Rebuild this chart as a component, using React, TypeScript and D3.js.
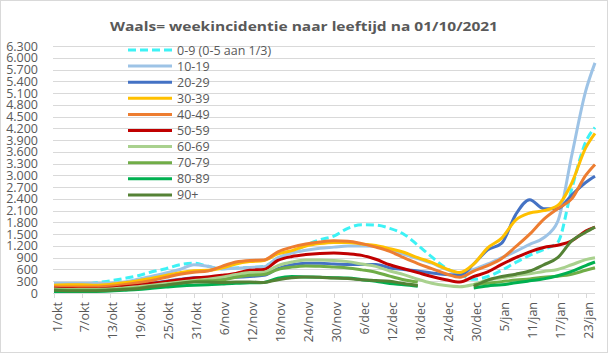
import React from "react";
import * as d3 from "d3";

const dates = [
  "2021-10-01","2021-10-04","2021-10-07","2021-10-10","2021-10-13","2021-10-16","2021-10-19","2021-10-22","2021-10-25","2021-10-28",
  "2021-10-31","2021-11-03","2021-11-06","2021-11-09","2021-11-12","2021-11-15","2021-11-18","2021-11-21","2021-11-24","2021-11-27",
  "2021-11-30","2021-12-03","2021-12-06","2021-12-09","2021-12-12","2021-12-15","2021-12-18","2021-12-21","2021-12-24","2021-12-27",
  "2021-12-30","2022-01-02","2022-01-05","2022-01-08","2022-01-11","2022-01-14","2022-01-17","2022-01-20","2022-01-23","2022-01-25",
];

const seriesNames = ["0-9 (0-5 aan 1/3)", "10-19", "20-29", "30-39", "40-49", "50-59", "60-69", "70-79", "80-89", "90+"];
const seriesColors = ["#3DF2F5", "#9DC3E6", "#4472C4", "#FFC000", "#ED7D31", "#C00000", "#A9D18E", "#70AD47", "#00B050", "#548235"];

const age0_9 = [190,200,210,260,310,370,440,540,620,720,760,680,620,640,650,680,880,1040,1220,1360,1450,1650,1740,1730,1650,1500,1220,920,640,480,350,420,580,780,960,1110,1290,2650,3850,4220];
const age10_19 = [250,250,250,250,250,280,350,430,510,600,720,680,610,630,650,670,900,1020,1090,1140,1170,1200,1200,1190,1080,990,880,760,610,500,600,740,900,1060,1240,1410,1820,3500,5150,5870];
const age20_29 = [150,140,140,140,150,170,200,250,300,350,390,400,390,400,420,450,620,720,760,760,740,730,730,730,640,600,560,510,470,450,740,1100,1270,2000,2380,2150,2150,2500,2820,2980];
const age30_39 = [200,210,210,200,220,260,310,380,450,520,570,580,640,740,800,830,1000,1080,1200,1260,1290,1290,1250,1210,1130,1040,900,780,620,520,740,1150,1400,1860,2040,2100,2230,2800,3700,4070];
const age40_49 = [160,150,150,150,170,210,260,320,400,480,530,560,680,790,830,840,1050,1170,1250,1300,1330,1320,1260,1170,1060,900,750,620,490,400,560,700,880,1180,1500,1880,2150,2400,3000,3280];
const age50_59 = [120,110,100,100,120,160,190,240,290,340,380,410,450,500,580,600,830,930,980,1010,1020,1000,960,860,720,620,520,420,340,280,420,540,730,900,1050,1160,1220,1330,1580,1680];
const age60_69 = [100,90,90,90,100,130,160,200,240,280,320,350,400,470,520,530,700,790,840,840,830,800,740,680,560,470,350,250,190,160,220,330,390,440,490,550,600,720,850,900];
const age70_79 = [80,70,70,70,80,100,130,170,200,240,290,310,330,400,450,470,600,660,690,680,660,640,590,530,430,340,280,null,null,null,210,250,290,330,360,400,430,480,580,645];
const age80_89 = [40,40,40,40,50,70,90,120,150,180,200,210,230,250,260,270,380,420,410,400,390,380,340,300,240,210,170,null,null,null,130,180,210,260,310,360,440,550,700,790];
const age90plus = [70,60,60,60,70,90,110,160,200,250,280,280,270,280,280,270,340,390,410,400,380,370,340,320,300,240,190,null,null,null,170,330,420,480,560,720,900,1330,1550,1680];

const seriesValues = [age0_9, age10_19, age20_29, age30_39, age40_49, age50_59, age60_69, age70_79, age80_89, age90plus];

const yTicks = [0,300,600,900,1200,1500,1800,2100,2400,2700,3000,3300,3600,3900,4200,4500,4800,5100,5400,5700,6000,6300];
const xTickLabels = ["1/okt","7/okt","13/okt","19/okt","25/okt","31/okt","6/nov","12/nov","18/nov","24/nov","30/nov","6/dec","12/dec","18/dec","24/dec","30/dec","5/jan","11/jan","17/jan","23/jan"];

const title = "Waals= weekincidentie naar leeftijd na 01/10/2021";

const monthMap: Record<string, [number, number]> = { okt: [2021, 9], nov: [2021, 10], dec: [2021, 11], jan: [2022, 0] };

const FONT = "'Open Sans', 'Liberation Sans', sans-serif";
const TEXT = "#595959";
const GRID = "#D9D9D9";

export default function App() {
  const W = 608, H = 353;
  const parse = d3.timeParse("%Y-%m-%d");
  const xDates = dates.map((d) => parse(d) as Date);
  const x = d3.scaleTime().domain([xDates[0], xDates[xDates.length - 1]]).range([54, 595]);
  const y = d3.scaleLinear().domain([0, 6300]).range([293, 46]);
  const loc = d3.formatLocale({ decimal: ",", thousands: ".", grouping: [3], currency: ["", ""] });
  const fmt = loc.format(",");

  const line = d3
    .line<number | null>()
    .defined((v) => v !== null)
    .x((_, i) => x(xDates[i]))
    .y((v) => y(v as number))
    .curve(d3.curveMonotoneX);

  const tickDates = xTickLabels.map((l) => {
    const [dd, mm] = l.split("/");
    const [yr, mo] = monthMap[mm];
    return new Date(yr, mo, +dd);
  });

  const legendY0 = 50;
  const legendStep = 16.1;

  return (
    <svg width={W} height={H} style={{ position: "absolute", left: 0, top: 0, background: "#fff" }} fontFamily={FONT}>
      <rect x={0.5} y={0.5} width={W - 1} height={H - 1} fill="#fff" stroke={GRID} />
      <text x={304} y={31} textAnchor="middle" fontSize={13} fontWeight="bold" fill={TEXT} textLength={388} lengthAdjust="spacingAndGlyphs">
        {title}
      </text>
      {yTicks.map((t) => (
        <g key={t}>
          <line x1={53} x2={595} y1={Math.round(y(t)) + 0.5} y2={Math.round(y(t)) + 0.5} stroke={GRID} strokeWidth={1} />
          <text x={38} y={y(t)} textAnchor="end" dominantBaseline="central" fontSize={12.5} fill={TEXT}>
            {fmt(t)}
          </text>
        </g>
      ))}
      {tickDates.map((d, i) => (
        <g key={i}>
          <line x1={Math.round(x(d)) + 0.5} x2={Math.round(x(d)) + 0.5} y1={293} y2={298} stroke={GRID} />
          <text
            transform={`translate(${x(d) + 3},302) rotate(-90)`}
            textAnchor="end"
            dominantBaseline="central"
            fontSize={12.5}
            fill={TEXT}
          >
            {xTickLabels[i]}
          </text>
        </g>
      ))}
      {seriesValues.map((vals, si) => (
        <path
          key={si}
          d={line(vals) || ""}
          fill="none"
          stroke={seriesColors[si]}
          strokeWidth={3}
          strokeLinejoin="round"
          strokeDasharray={si === 0 ? "8 4" : undefined}
        />
      ))}
      {seriesNames.map((n, i) => {
        const ly = legendY0 + i * legendStep;
        return (
          <g key={n}>
            <line x1={128} x2={172} y1={ly} y2={ly} stroke={seriesColors[i]} strokeWidth={3} strokeDasharray={i === 0 ? "8 4" : undefined} />
            <text x={177} y={ly} dominantBaseline="central" fontSize={12.5} fill={TEXT}>
              {n}
            </text>
          </g>
        );
      })}
    </svg>
  );
}
